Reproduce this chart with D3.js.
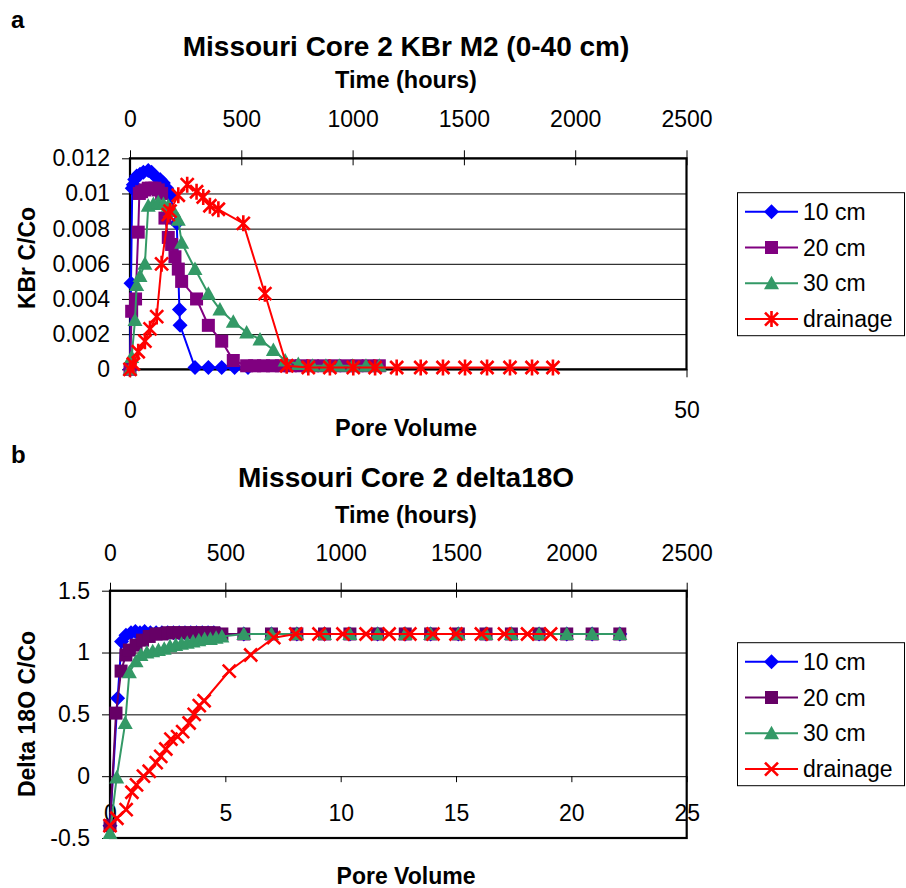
<!DOCTYPE html>
<html>
<head>
<meta charset="utf-8">
<script src="https://cdn.jsdelivr.net/npm/d3@7"></script>
<style>
  body { margin: 0; background: #fff; }
  text { font-family: "Liberation Sans", Arial, sans-serif; fill: #000; }
</style>
</head>
<body>
<svg id="chart" width="906" height="888"></svg>
<script>
// ---- data: panel a, KBr C/Co against time (hours) ----
const hourTicks = [0, 500, 1000, 1500, 2000, 2500];
const kbrTicks = [0, 0.002, 0.004, 0.006, 0.008, 0.01, 0.012];
const pvTicksA = [0, 50];

const kbr10 = [[0, 0], [4.5, 0.0049], [10, 0.0103], [15, 0.0105], [21, 0.0108], [30, 0.011], [45, 0.0111],
  [60, 0.0112], [82, 0.0113], [97, 0.0112], [112, 0.011], [135, 0.0108], [150, 0.0106], [165, 0.0103],
  [180, 0.0099], [210, 0.0083], [222, 0.0034], [225, 0.0025], [292, 0.0001], [352, 0.0001], [412, 0.0001],
  [470, 0.0001], [530, 0.0001]];
const kbr20 = [[0, 0], [7.5, 0.0033], [25, 0.004], [37, 0.0078], [42, 0.01], [52, 0.0101], [67, 0.0102],
  [82, 0.0103], [97, 0.0103], [112, 0.0103], [127, 0.0102], [142, 0.01], [157, 0.0086], [172, 0.0075],
  [187, 0.0071], [202, 0.0064], [217, 0.0057], [232, 0.005], [299, 0.004], [352, 0.0025], [412, 0.0016],
  [464, 0.0005], [524, 0.0002], [560, 0.0002], [600, 0.0002], [640, 0.0002], [680, 0.0002], [720, 0.0002],
  [770, 0.0002], [820, 0.0002], [870, 0.0002], [920, 0.0002], [970, 0.0002], [1020, 0.0002], [1070, 0.0002],
  [1120, 0.0002]];
const kbr30 = [[0, 0], [7.5, 0.0007], [22.5, 0.0028], [30, 0.0048], [45, 0.0053], [67, 0.006], [82, 0.0093],
  [105, 0.0094], [127, 0.0095], [150, 0.0094], [172, 0.0093], [195, 0.009], [217, 0.0085], [232, 0.0072],
  [292, 0.0057], [352, 0.0043], [404, 0.0034], [464, 0.0027], [524, 0.0021], [584, 0.0017], [644, 0.0011],
  [697, 0.0005], [756, 0.0003], [820, 0.0002], [880, 0.0002], [940, 0.0002], [1000, 0.0002], [1060, 0.0002],
  [1120, 0.0002]];
const kbrDrain = [[0, 0], [15, 0.0003], [37, 0.001], [67, 0.0016], [90, 0.0023], [120, 0.003], [142, 0.006],
  [172, 0.0088], [180, 0.009], [217, 0.0099], [257, 0.0105], [299, 0.0101], [329, 0.0098], [359, 0.0093],
  [397, 0.0091], [509, 0.0083], [606, 0.0043], [704, 0.0002], [801, 0.0001], [898, 0.0001], [1003, 0.0001],
  [1101, 0.0001], [1198, 0.0001], [1306, 0.0001], [1406, 0.0001], [1505, 0.0001], [1604, 0.0001],
  [1707, 0.0001], [1806, 0.0001], [1900, 0.0001]];

// ---- data: panel b, delta 18O C/Co against pore volume ----
const pvTicksB = [0, 5, 10, 15, 20, 25];
const d18Ticks = [-0.5, 0, 0.5, 1, 1.5];

const d18o10 = [[0, -0.4], [0.33, 0.63], [0.5, 1.09], [0.69, 1.14], [0.91, 1.16], [1.1, 1.17], [1.3, 1.16],
  [1.5, 1.17], [1.75, 1.16], [2, 1.16], [2.25, 1.16], [2.5, 1.16], [2.75, 1.16], [3, 1.16], [3.25, 1.16],
  [3.5, 1.16], [3.75, 1.16], [4, 1.16], [4.25, 1.16], [4.5, 1.16], [4.75, 1.15], [5.8, 1.15], [7, 1.15],
  [8.1, 1.15], [9.3, 1.15], [10.4, 1.15], [11.6, 1.15], [12.8, 1.15], [13.9, 1.15], [15.1, 1.15],
  [16.3, 1.15], [17.4, 1.15], [18.6, 1.15], [19.8, 1.15], [20.9, 1.15], [22.1, 1.15]];
const d18o20 = [[0, -0.4], [0.26, 0.51], [0.48, 0.85], [0.69, 0.98], [0.84, 1.02], [1.13, 1.06], [1.41, 1.1],
  [1.7, 1.13], [2, 1.15], [2.25, 1.15], [2.5, 1.16], [2.75, 1.16], [3, 1.16], [3.25, 1.16], [3.5, 1.16],
  [3.75, 1.16], [4, 1.16], [4.25, 1.16], [4.5, 1.16], [4.85, 1.15], [5.8, 1.15], [7, 1.15], [8.1, 1.15],
  [9.3, 1.15], [10.4, 1.15], [11.6, 1.15], [12.8, 1.15], [13.9, 1.15], [15.1, 1.15], [16.3, 1.15],
  [17.4, 1.15], [18.6, 1.15], [19.8, 1.15], [20.9, 1.15], [22.1, 1.15]];
const d18o30 = [[0, -0.46], [0.29, -0.01], [0.66, 0.43], [0.84, 0.84], [1.13, 0.93], [1.34, 0.98], [1.6, 1],
  [1.85, 1.01], [2.1, 1.02], [2.35, 1.03], [2.6, 1.05], [2.85, 1.06], [3.1, 1.07], [3.35, 1.08], [3.6, 1.09],
  [3.85, 1.1], [4.1, 1.11], [4.35, 1.11], [4.6, 1.12], [4.85, 1.13], [5.8, 1.15], [7, 1.15], [8.1, 1.15],
  [9.3, 1.15], [10.4, 1.15], [11.6, 1.15], [12.8, 1.15], [13.9, 1.15], [15.1, 1.15], [16.3, 1.15],
  [17.4, 1.15], [18.6, 1.15], [19.8, 1.15], [20.9, 1.15], [22.1, 1.15]];
const d18oDrain = [[0, -0.4], [0.3, -0.34], [0.7, -0.27], [0.95, -0.13], [1.15, -0.07], [1.45, 0], [1.7, 0.04],
  [2, 0.11], [2.2, 0.16], [2.42, 0.22], [2.64, 0.3], [2.93, 0.32], [3.15, 0.36], [3.43, 0.43], [3.65, 0.5],
  [3.87, 0.57], [4.08, 0.61], [5.17, 0.85], [6.1, 0.98], [7.1, 1.12], [8.05, 1.15], [9.06, 1.15], [10.1, 1.15],
  [11.1, 1.15], [12.1, 1.15], [13, 1.15], [14, 1.15], [15, 1.15], [16.1, 1.15], [17.1, 1.15], [18.1, 1.15],
  [19.1, 1.15]];

const legendNames = ['10 cm', '20 cm', '30 cm', 'drainage'];

const svg = d3.select('#chart');

function label(x, y, str, size, bold, anchor = 'middle', rot = 0) {
  return svg.append('text')
    .attr('transform', `translate(${x},${y}) rotate(${rot})`)
    .attr('text-anchor', anchor)
    .attr('font-size', size)
    .attr('font-weight', bold ? 'bold' : 'normal')
    .text(str);
}

function marker(g, type, color, x, y) {
  if (type === 'diamond') {
    g.append('path').attr('d', `M${x},${y - 7.5}L${x + 7.5},${y}L${x},${y + 7.5}L${x - 7.5},${y}Z`).attr('fill', color);
  } else if (type === 'square') {
    g.append('rect').attr('x', x - 6.5).attr('y', y - 6.5).attr('width', 13).attr('height', 13).attr('fill', color);
  } else if (type === 'triangle') {
    g.append('path').attr('d', `M${x},${y - 7.5}L${x + 7.5},${y + 6}L${x - 7.5},${y + 6}Z`).attr('fill', color);
  } else {
    let d = `M${x - 6.5},${y - 6.5}L${x + 6.5},${y + 6.5}M${x + 6.5},${y - 6.5}L${x - 6.5},${y + 6.5}`;
    if (type === 'star') d += `M${x},${y - 8}L${x},${y + 8}`;
    g.append('path').attr('d', d).attr('stroke', color).attr('stroke-width', 2.6).attr('fill', 'none');
  }
}

function series(data, xs, ys, color, type) {
  const g = svg.append('g');
  g.append('path')
    .attr('d', d3.line().x(d => xs(d[0])).y(d => ys(d[1]))(data))
    .attr('fill', 'none').attr('stroke', color).attr('stroke-width', 2);
  data.forEach(d => marker(g, type, color, xs(d[0]), ys(d[1])));
}

function legend(y0, colors, types) {
  svg.append('rect').attr('x', 737.5).attr('y', y0).attr('width', 167).attr('height', 143)
    .attr('fill', '#fff').attr('stroke', '#000').attr('stroke-width', 1);
  legendNames.forEach((name, i) => {
    const y = y0 + 19 + i * 35.8;
    svg.append('line').attr('x1', 745).attr('x2', 798).attr('y1', y).attr('y2', y)
      .attr('stroke', colors[i]).attr('stroke-width', 2);
    marker(svg, types[i], colors[i], 771.5, y);
    label(803, y + 8, name, 23, false, 'start');
  });
}

function styleAxis(g) {
  g.select('.domain').remove();
  g.selectAll('.tick line').attr('stroke', '#000').attr('stroke-width', 1);
  g.selectAll('.tick text').attr('font-size', 23).attr('font-family', '"Liberation Sans", Arial, sans-serif').attr('fill', '#000');
}

const plain = d => String(+d.toFixed(3));

// ================= panel a =================
const A = {left: 130, right: 686.5, top: 158.3, bottom: 369.3};
const xA = d3.scaleLinear().domain([0, 2500]).range([A.left, A.right]);
const pvA = d3.scaleLinear().domain([0, 50]).range([A.left, A.right]);
const yA = d3.scaleLinear().domain([0, 0.012]).range([A.bottom, A.top]);

svg.append('g').attr('transform', `translate(${A.left},0)`)
  .call(d3.axisLeft(yA).tickValues(kbrTicks).tickSize(-(A.right - A.left)).tickFormat(''))
  .call(g => { g.select('.domain').remove(); g.selectAll('line').attr('stroke', '#000').attr('stroke-width', 1); });

svg.append('g').attr('transform', `translate(0,${A.top})`)
  .call(d3.axisTop(xA).tickValues(hourTicks).tickSize(8).tickPadding(23).tickFormat(plain))
  .call(styleAxis)
  .call(g => g.selectAll('.tick line').attr('y2', 7).attr('y1', -8));
svg.append('g').attr('transform', `translate(${A.left},0)`)
  .call(d3.axisLeft(yA).tickValues(kbrTicks).tickSize(8).tickPadding(12).tickFormat(plain))
  .call(styleAxis);
svg.append('g').attr('transform', `translate(0,${A.bottom})`)
  .call(d3.axisBottom(pvA).tickValues(pvTicksA).tickSize(8).tickPadding(24).tickFormat(plain))
  .call(styleAxis);

svg.append('rect').attr('x', A.left).attr('y', A.top).attr('width', A.right - A.left).attr('height', A.bottom - A.top)
  .attr('fill', 'none').attr('stroke', '#000').attr('stroke-width', 2.2);

series(kbr10, xA, yA, '#0000ff', 'diamond');
series(kbr20, xA, yA, '#800080', 'square');
series(kbr30, xA, yA, '#339966', 'triangle');
series(kbrDrain, xA, yA, '#ff0000', 'star');

label(11, 28, 'a', 24, true, 'start');
label(406, 56, 'Missouri Core 2 KBr M2 (0-40 cm)', 28, true);
label(406, 88, 'Time (hours)', 23.5, true);
label(406, 436, 'Pore Volume', 23.5, true);
label(35, 258, 'KBr C/Co', 23, true, 'middle', -90);
legend(192.7, ['#0000ff', '#800080', '#339966', '#ff0000'], ['diamond', 'square', 'triangle', 'star']);

// ================= panel b =================
const B = {left: 110, right: 686.7, top: 590.7, bottom: 838};
const xB = d3.scaleLinear().domain([0, 2500]).range([B.left, B.right]);
const pvB = d3.scaleLinear().domain([0, 25]).range([B.left, B.right]);
const yB = d3.scaleLinear().domain([-0.5, 1.5]).range([B.bottom, B.top]);

svg.append('g').attr('transform', `translate(${B.left},0)`)
  .call(d3.axisLeft(yB).tickValues(d18Ticks).tickSize(-(B.right - B.left)).tickFormat(''))
  .call(g => { g.select('.domain').remove(); g.selectAll('line').attr('stroke', '#000').attr('stroke-width', 1); });

svg.append('g').attr('transform', `translate(0,${B.top})`)
  .call(d3.axisTop(xB).tickValues(hourTicks).tickSize(8).tickPadding(22).tickFormat(plain))
  .call(styleAxis)
  .call(g => g.selectAll('.tick line').attr('y2', 7).attr('y1', -8));
svg.append('g').attr('transform', `translate(${B.left},0)`)
  .call(d3.axisLeft(yB).tickValues(d18Ticks).tickSize(8).tickPadding(12).tickFormat(plain))
  .call(styleAxis);
svg.append('g').attr('transform', `translate(0,${yB(0)})`)
  .call(d3.axisBottom(pvB).tickValues(pvTicksB).tickSize(6).tickPadding(22).tickFormat(plain))
  .call(styleAxis);

svg.append('rect').attr('x', B.left).attr('y', B.top).attr('width', B.right - B.left).attr('height', B.bottom - B.top)
  .attr('fill', 'none').attr('stroke', '#000').attr('stroke-width', 2.2);

series(d18o10, pvB, yB, '#0000ff', 'diamond');
series(d18o20, pvB, yB, '#660066', 'square');
series(d18o30, pvB, yB, '#339966', 'triangle');
series(d18oDrain, pvB, yB, '#ff0000', 'cross');

label(11, 463, 'b', 24, true, 'start');
label(406, 487, 'Missouri Core 2 delta18O', 28, true);
label(406, 523, 'Time (hours)', 23.5, true);
label(406, 884, 'Pore Volume', 23, true);
label(35, 714, 'Delta 18O C/Co', 23, true, 'middle', -90);
legend(642.7, ['#0000ff', '#660066', '#339966', '#ff0000'], ['diamond', 'square', 'triangle', 'cross']);
</script>
</body>
</html>
